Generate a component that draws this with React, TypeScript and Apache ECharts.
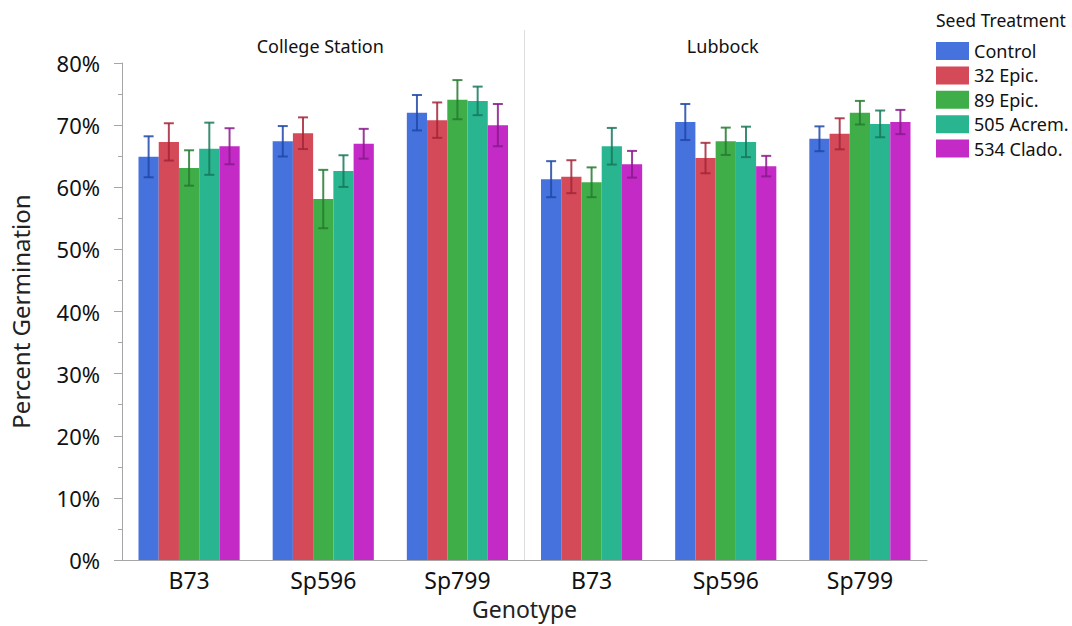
import React, { useEffect, useRef } from "react";
import * as echarts from "echarts";

const locations = ["College Station", "Lubbock"];
const genotypes = ["B73", "Sp596", "Sp799"];
const treatments = ["Control", "32 Epic.", "89 Epic.", "505 Acrem.", "534 Clado."];

// Mean germination (%) per location × genotype, in axis order
const control = [64.9, 67.4, 72.0, 61.3, 70.5, 67.8];
const epic32 = [67.3, 68.7, 70.8, 61.7, 64.7, 68.6];
const epic89 = [63.1, 58.1, 74.1, 60.8, 67.4, 72.0];
const acrem505 = [66.2, 62.6, 73.9, 66.6, 67.3, 70.2];
const clado534 = [66.6, 67.0, 70.0, 63.7, 63.4, 70.5];

// Half-width of the error bars (%)
const controlErr = [3.3, 2.45, 2.85, 2.9, 2.9, 2.0];
const epic32Err = [3.0, 2.55, 2.85, 2.65, 2.45, 2.5];
const epic89Err = [2.85, 4.7, 3.15, 2.4, 2.2, 1.9];
const acrem505Err = [4.2, 2.55, 2.3, 2.95, 2.45, 2.15];
const clado534Err = [2.9, 2.4, 3.4, 2.15, 1.65, 1.95];

const yTicks = [0, 10, 20, 30, 40, 50, 60, 70, 80];

const barColors = ["#4672DD", "#D44A58", "#3FAE49", "#29B590", "#C42AC6"];
const errColors = ["#1F48A8", "#A32638", "#277A2F", "#17785C", "#8A1A8C"];

const FONT = "'Noto Sans', 'Open Sans', sans-serif";
const CAT_GAP = 0.246;

export default function App() {
  const ref = useRef<HTMLDivElement>(null);

  useEffect(() => {
    if (!ref.current) return;
    const chart = echarts.init(ref.current, null, { renderer: "svg" });

    const values = [control, epic32, epic89, acrem505, clado534];
    const errors = [controlErr, epic32Err, epic89Err, acrem505Err, clado534Err];
    const categories: string[] = [];
    locations.forEach((loc) => genotypes.forEach((g) => categories.push(loc + "|" + g)));

    const barSeries = treatments.map((name, i) => ({
      type: "bar",
      name,
      data: values[i],
      barCategoryGap: (CAT_GAP * 100).toFixed(1) + "%",
      barGap: "0%",
      itemStyle: { color: barColors[i] },
      emphasis: { disabled: true },
    }));

    const errSeries = treatments.map((name, i) => ({
      type: "custom",
      name: name + " error",
      data: values[i].map((v, k) => [k, v, errors[i][k]]),
      encode: { x: 0, y: 1 },
      z: 5,
      renderItem: (params: any, api: any) => {
        const x = api.value(0);
        const v = api.value(1);
        const e = api.value(2);
        const catW = api.size([1, 0])[0];
        const bw = (catW * (1 - CAT_GAP)) / treatments.length;
        const c = api.coord([x, v]);
        const cx = c[0] + (i - (treatments.length - 1) / 2) * bw;
        const top = api.coord([x, v + e])[1];
        const bot = api.coord([x, v - e])[1];
        const half = 5;
        const style = { stroke: errColors[i], lineWidth: 2, opacity: 0.85 };
        return {
          type: "group",
          children: [
            { type: "line", shape: { x1: cx, y1: top, x2: cx, y2: bot }, style },
            { type: "line", shape: { x1: cx - half, y1: top, x2: cx + half, y2: top }, style },
            { type: "line", shape: { x1: cx - half, y1: bot, x2: cx + half, y2: bot }, style },
          ],
        };
      },
    }));

    chart.setOption({
      animation: false,
      textStyle: { fontFamily: FONT },
      grid: {
        left: 122,
        right: 145,
        top: 63,
        bottom: 66,
        containLabel: false,
        outerBoundsMode: "none",
      },
      legend: {
        data: treatments,
        orient: "vertical",
        left: 936,
        top: 42,
        icon: "rect",
        itemWidth: 33,
        itemHeight: 18,
        itemGap: 6.4,
        padding: 0,
        selectedMode: false,
        textStyle: { fontSize: 18, color: "#111", fontFamily: FONT, lineHeight: 18 },
      },
      xAxis: {
        type: "category",
        data: categories,
        name: "Genotype",
        nameLocation: "middle",
        nameGap: 36,
        nameTextStyle: { fontSize: 23, color: "#222", fontFamily: FONT, lineHeight: 26 },
        axisLine: { lineStyle: { color: "#a6a6a6" } },
        axisTick: { show: false },
        axisLabel: {
          fontSize: 23,
          color: "#111",
          margin: 8,
          formatter: (v: string) => v.split("|")[1],
        },
      },
      yAxis: {
        type: "value",
        min: yTicks[0],
        max: yTicks[yTicks.length - 1],
        interval: yTicks[1] - yTicks[0],
        name: "Percent Germination",
        nameLocation: "middle",
        nameGap: 90,
        nameTextStyle: { fontSize: 24, color: "#222", fontFamily: FONT },
        axisLine: { show: true, lineStyle: { color: "#a6a6a6" } },
        axisTick: { show: true, length: 8, lineStyle: { color: "#a6a6a6" } },
        minorTick: { show: true, splitNumber: 2, length: 4, lineStyle: { color: "#a6a6a6" } },
        splitLine: { show: false },
        axisLabel: { fontSize: 22, color: "#111", margin: 22, formatter: "{value}%" },
      },
      series: [...barSeries, ...errSeries],
    });

    // Panel divider and panel titles, placed from the category scale
    const px = (k: number) => chart.convertToPixel({ xAxisIndex: 0 }, categories[k]) as number;
    const per = genotypes.length;
    const divX = (px(per - 1) + px(per)) / 2;
    const bottomY = chart.convertToPixel({ yAxisIndex: 0 }, yTicks[0]) as number;
    const titleCenters = locations.map((_, li) => {
      const a = px(li * per);
      const b = px(li * per + per - 1);
      return (a + b) / 2;
    });

    chart.setOption({
      graphic: [
        {
          type: "line",
          shape: { x1: divX, y1: 30, x2: divX, y2: bottomY },
          style: { stroke: "#dddddd", lineWidth: 1 },
          silent: true,
        },
        ...locations.map((loc, li) => ({
          type: "text",
          x: titleCenters[li] - 3,
          y: 46,
          style: {
            text: loc,
            fontSize: 18,
            fontFamily: FONT,
            fill: "#111",
            textAlign: "center",
            textVerticalAlign: "middle",
          },
        })),
        {
          type: "text",
          x: 936,
          y: 20,
          style: {
            text: "Seed Treatment",
            fontSize: 17.5,
            fontFamily: FONT,
            fill: "#111",
            textAlign: "left",
            textVerticalAlign: "middle",
          },
        },
      ],
    });

    return () => chart.dispose();
  }, []);

  return (
    <div
      ref={ref}
      style={{ position: "absolute", left: 0, top: 0, width: 1072, height: 626 }}
    />
  );
}
